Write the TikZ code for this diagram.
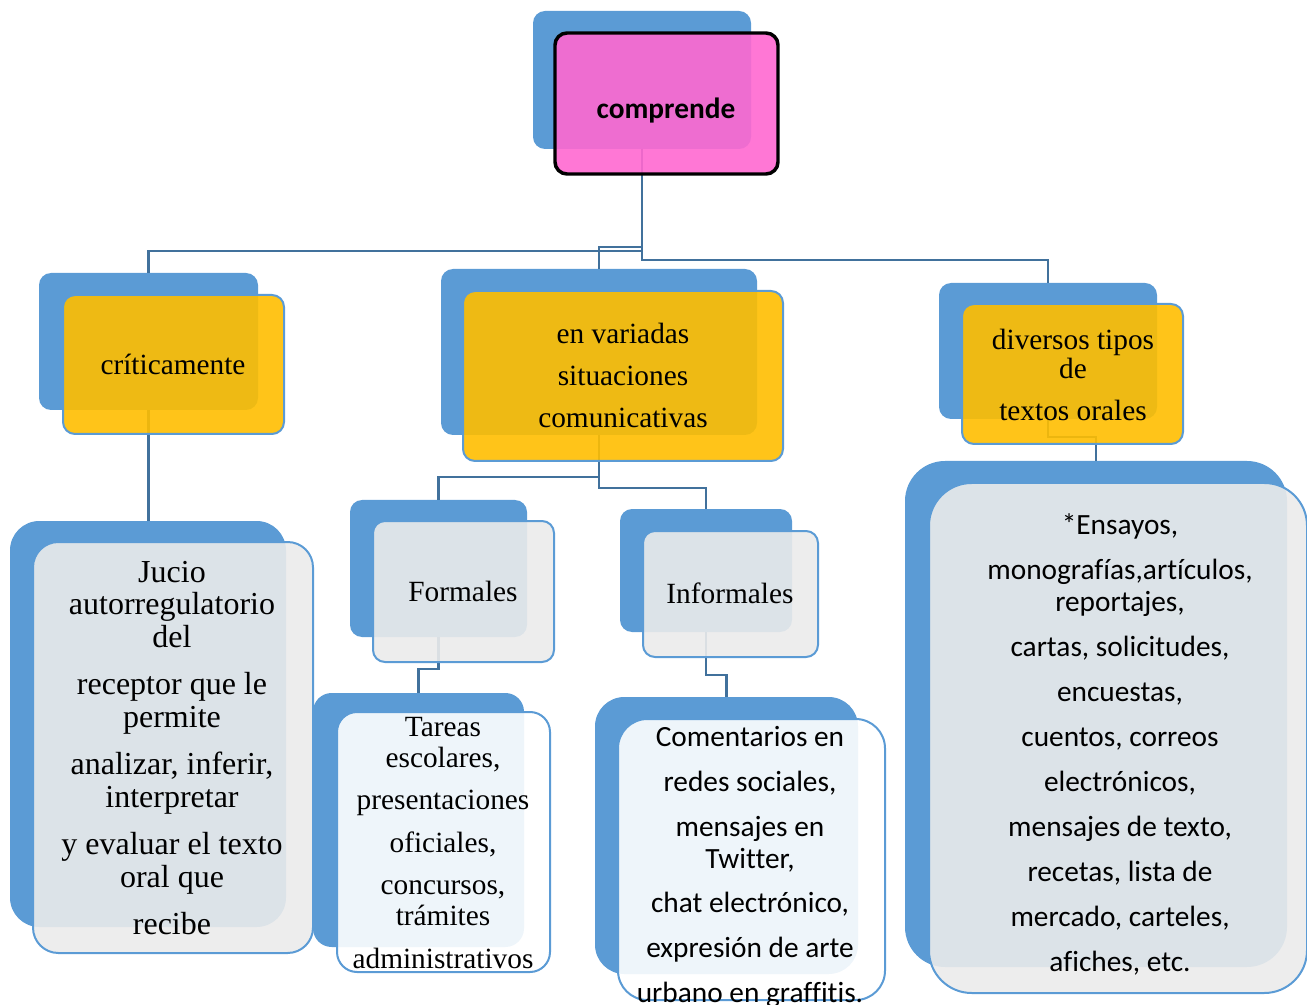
\documentclass[tikz,border=0pt]{standalone}
\usepackage{fontspec}
\setmainfont{Liberation Serif}
\newfontfamily\carlito[Ligatures=NoCommon]{Carlito}
\usetikzlibrary{fit}
\definecolor{backblue}{RGB}{91,155,213}
\definecolor{linkblue}{RGB}{65,113,156}
\definecolor{rosa}{RGB}{255,104,208}
\definecolor{amarillo}{RGB}{255,190,0}
\definecolor{gris}{RGB}{235,235,235}

\begin{document}
\begin{tikzpicture}[x=0.75pt,y=-0.75pt,
	backbox/.style={fill=backblue, inner sep=0pt, outer sep=0pt, rounded corners=9pt, fit={#1}},
	frontbox/.style={draw=backblue, line width=1.5pt, fill opacity=0.9, inner sep=0pt, outer sep=0pt, rounded corners=9pt, fit={#1}},
	conn/.style={draw=linkblue, line width=1.6pt},
	serif/.style={align=center, font=\fontsize{22}{31.5}\selectfont},
	sans/.style={align=center, font=\carlito\fontsize{22}{24}\selectfont}]
	\useasboundingbox (0,0) rectangle (1307,1005);
	% fondos azules
	\node[backbox={(533,11) (751,149)}] (topB) {};
	\node[backbox={(39,273) (258,410)}] (critB) {};
	\node[backbox={(441,269) (757,435)}] (varB) {};
	\node[backbox={(939,283) (1157,419)}] (divB) {};
	\node[backbox={(350,500) (527,637)}] (formB) {};
	\node[backbox={(620,509) (792,632)}] (infB) {};
	\node[backbox={(10,521) (286,927)}, rounded corners=22pt] (jucioB) {};
	\node[backbox={(313,693) (524,947)}, rounded corners=14pt] (tarB) {};
	\node[backbox={(595,697) (858,974)}, rounded corners=22pt] (comB) {};
	\node[backbox={(905,461) (1287,967)}, rounded corners=30pt] (ensB) {};
	% conectores
	\draw[conn] (topB.south) -- ++(0,102) -| (critB.north);
	\draw[conn] (topB.south) -- ++(0,98) -| (varB.north);
	\draw[conn] (topB.south) -- ++(0,111) -| (divB.north);
	\draw[conn] (critB.south) -- (critB.south |- jucioB.north);
	\draw[conn] (varB.south) -- ++(0,42) -| (formB.north);
	\draw[conn] (varB.south) -- ++(0,53) -| (infB.north);
	\draw[conn] (formB.south) -- ++(0,32) -| (tarB.north);
	\draw[conn] (infB.south) -- ++(0,43) -| (comB.north);
	\draw[conn] (divB.south) -- ++(0,18) -| (ensB.north);
	% cajas delanteras
	\node[frontbox={(555,33) (778,174)}, draw=black, line width=2.6pt, fill=rosa] (topF) {};
	\node[frontbox={(63,295) (284,434)}, fill=amarillo] (critF) {};
	\node[frontbox={(463,291) (783,461)}, fill=amarillo] (varF) {};
	\node[frontbox={(962,304) (1183,444)}, fill=amarillo] (divF) {};
	\node[frontbox={(373,521) (554,662)}, fill=gris] (formF) {};
	\node[frontbox={(643,531) (818,657)}, fill=gris] (infF) {};
	\node[frontbox={(33,542) (313,953)}, fill=gris, rounded corners=19pt] (jucioF) {};
	\node[frontbox={(337,712) (550,972)}, fill=white, rounded corners=15pt] (tarF) {};
	\node[frontbox={(618,719) (885,1000)}, fill=white, rounded corners=22pt] (comF) {};
	\node[frontbox={(929,483) (1307,993)}, fill=gris, rounded corners=32pt] (ensF) {};
	% textos
	\node[sans, font=\carlito\bfseries\fontsize{22}{24}\selectfont] (topT) at (666,111) {comprende};
	\node[serif] (critT) at (173,364) {críticamente};
	\node[serif] (varT) at (623,375) {en variadas\\situaciones\\comunicativas};
	\node[serif, font=\fontsize{22}{21.75}\selectfont] (divT) at (1073,375) {diversos tipos\\de\\[9.75pt]textos orales};
	\node[serif] (formT) at (463,591) {Formales};
	\node[serif] (infT) at (730,593) {Informales};
	\node[serif, font=\fontsize{24}{24.4}\selectfont] (jucioT) at (172,748) {Jucio\\autorregulatorio\\del\\[11.2pt]receptor que le\\permite\\[11.2pt]analizar, inferir,\\interpretar\\[11.2pt]y evaluar el texto\\oral que\\[11.2pt]recibe};
	\node[serif, font=\fontsize{22}{22.9}\selectfont] (tarT) at (443,843) {Tareas\\escolares,\\[9pt]presentaciones\\[9pt]oficiales,\\[9pt]concursos,\\trámites\\[9pt]administrativos};
	\node[sans] (comT) at (750,867) {Comentarios en\\[9.6pt]redes sociales,\\[9.6pt]mensajes en\\Twitter,\\[9.6pt]chat electrónico,\\[9.6pt]expresión de arte\\[9.6pt]urbano en graffitis.};
	\node[sans] (ensT) at (1120,744) {*Ensayos,\\[9.75pt]monografías,artículos,\\reportajes,\\[9.75pt]cartas, solicitudes,\\[9.75pt]encuestas,\\[9.75pt]cuentos, correos\\[9.75pt]electrónicos,\\[9.75pt]mensajes de texto,\\[9.75pt]recetas, lista de\\[9.75pt]mercado, carteles,\\[9.75pt]afiches, etc.};
\end{tikzpicture}
\end{document}
